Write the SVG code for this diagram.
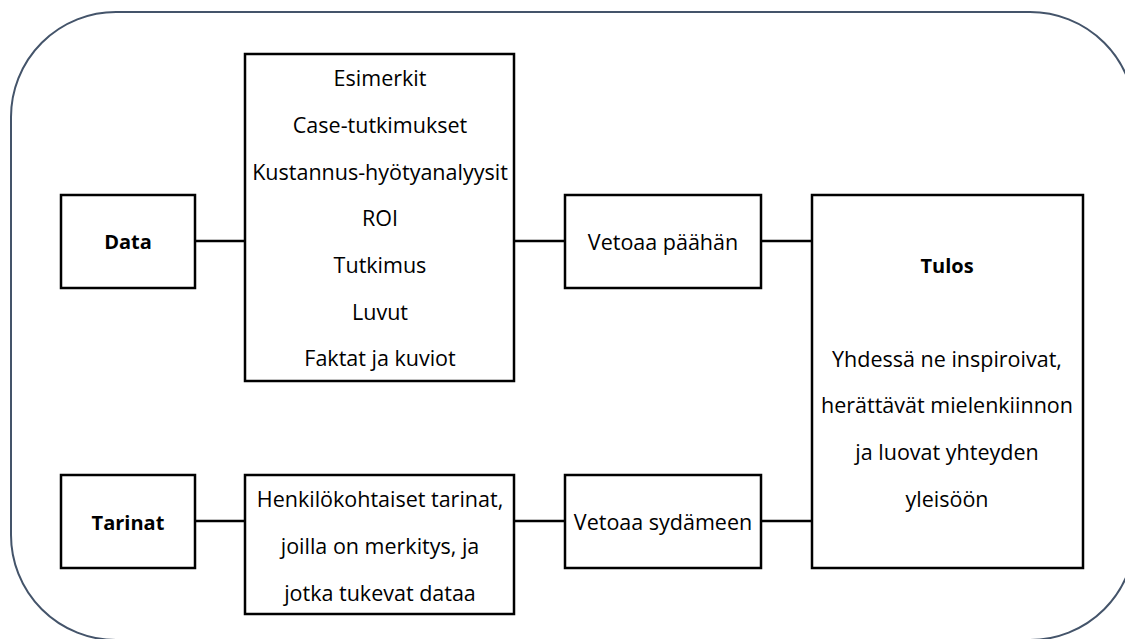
<svg xmlns="http://www.w3.org/2000/svg" width="1125" height="639" viewBox="0 0 1125 639">
<style>
.box{fill:#fff;stroke:#000;stroke-width:2.5}
.t{font-family:"Open Sans","Noto Sans",sans-serif;font-size:21.5px;fill:#000;text-anchor:middle}
.b{font-weight:bold;font-size:20px}
.c{stroke:#000;stroke-width:2.5;fill:none}
</style>
<rect id="frame" x="11" y="12" width="1124" height="628" rx="105" ry="105" fill="#fff" stroke="#44546a" stroke-width="2"/>
<g id="connectors">
<line class="c" x1="195" y1="241" x2="245" y2="241"/>
<line class="c" x1="514" y1="241" x2="565" y2="241"/>
<line class="c" x1="761" y1="241" x2="812" y2="241"/>
<line class="c" x1="195" y1="521" x2="245" y2="521"/>
<line class="c" x1="514" y1="521" x2="565" y2="521"/>
<line class="c" x1="761" y1="521" x2="812" y2="521"/>
</g>
<g id="data">
<rect class="box" x="61" y="195" width="134" height="93"/>
<text class="t b" x="128" y="249">Data</text>
</g>
<g id="data-list">
<rect class="box" x="245" y="54" width="269" height="327"/>
<text class="t" x="380" y="86">Esimerkit</text>
<text class="t" x="380" y="133">Case-tutkimukset</text>
<text class="t" x="380" y="180">Kustannus-hyötyanalyysit</text>
<text class="t" x="380" y="226">ROI</text>
<text class="t" x="380" y="273">Tutkimus</text>
<text class="t" x="380" y="320">Luvut</text>
<text class="t" x="380" y="366">Faktat ja kuviot</text>
</g>
<g id="vetoaa-paahan">
<rect class="box" x="565" y="195" width="196" height="93"/>
<text class="t" x="663" y="250">Vetoaa päähän</text>
</g>
<g id="tulos">
<rect class="box" x="812" y="195" width="271" height="373"/>
<text class="t b" x="947" y="273">Tulos</text>
<text class="t" x="947" y="367">Yhdessä ne inspiroivat,</text>
<text class="t" x="947" y="413">herättävät mielenkiinnon</text>
<text class="t" x="947" y="460">ja luovat yhteyden</text>
<text class="t" x="947" y="507">yleisöön</text>
</g>
<g id="tarinat">
<rect class="box" x="61" y="475" width="134" height="93"/>
<text class="t b" x="128" y="530">Tarinat</text>
</g>
<g id="tarinat-list">
<rect class="box" x="245" y="475" width="269" height="139"/>
<text class="t" x="380" y="507">Henkilökohtaiset tarinat,</text>
<text class="t" x="380" y="554">joilla on merkitys, ja</text>
<text class="t" x="380" y="601">jotka tukevat dataa</text>
</g>
<g id="vetoaa-sydameen">
<rect class="box" x="565" y="475" width="196" height="93"/>
<text class="t" x="663" y="530">Vetoaa sydämeen</text>
</g>
</svg>
